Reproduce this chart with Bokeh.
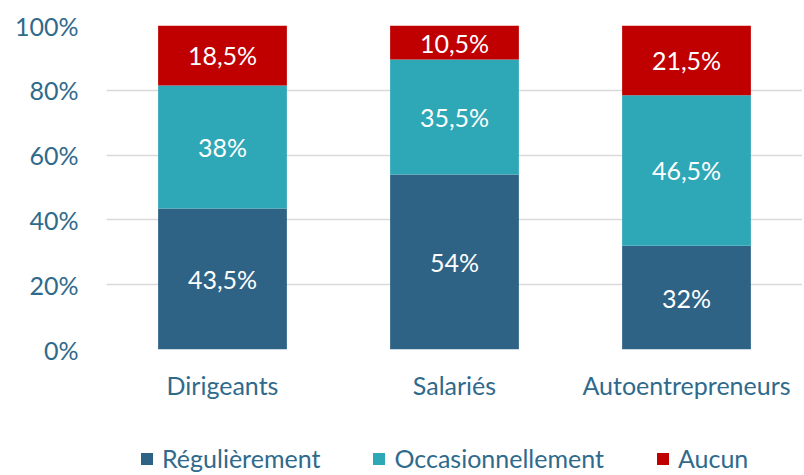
from bokeh.plotting import figure
from bokeh.layouts import column
from bokeh.models import ColumnDataSource, Range1d, FixedTicker, PrintfTickFormatter, LabelSet, Legend, LegendItem
from bokeh.core.properties import value
from bokeh.embed import file_html
from bokeh.resources import INLINE

categories = ["Dirigeants", "Salariés", "Autoentrepreneurs"]
series = ["Régulièrement", "Occasionnellement", "Aucun"]
regulierement = [43.5, 54, 32]
occasionnellement = [38, 35.5, 46.5]
aucun = [18.5, 10.5, 21.5]
colors = ["#2E6386", "#2EA7B7", "#C00000"]
y_ticks = [0, 20, 40, 60, 80, 100]

FONT = "Lato"
TXT = "#2F6A8C"
FS = "25px"

src = ColumnDataSource(dict(cat=categories, **{series[0]: regulierement, series[1]: occasionnellement, series[2]: aucun}))

p = figure(x_range=categories, y_range=Range1d(0, 100), width=802, height=402,
           output_backend="svg", toolbar_location=None,
           min_border_left=106, min_border_right=0, min_border_top=25, min_border_bottom=0)
p.x_range.range_padding = 0

r = p.vbar_stack(series, x="cat", width=0.555, color=colors, source=src, line_color=None)

# labels
vals = [regulierement, occasionnellement, aucun]
lx, ly, lt = [], [], []
for i, c in enumerate(categories):
    base = 0
    for s in vals:
        v = s[i]
        lx.append(c)
        ly.append(base + v / 2)
        lt.append(("%g" % v).replace(".", ",") + "%")
        base += v
lsrc = ColumnDataSource(dict(x=lx, y=ly, t=lt))
p.add_layout(LabelSet(x="x", y="y", text="t", source=lsrc, text_color="white",
                      text_font=value(FONT), text_font_size=FS, text_align="center",
                      text_baseline="middle"))

p.outline_line_color = None
p.xgrid.grid_line_color = None
p.ygrid.grid_line_color = "#D9D9D9"
p.ygrid.grid_line_width = 1.5
p.yaxis.ticker = FixedTicker(ticks=y_ticks)
p.yaxis.formatter = PrintfTickFormatter(format="%d%%")
for ax in (p.xaxis, p.yaxis):
    ax.axis_line_color = None
    ax.major_tick_line_color = None
    ax.minor_tick_line_color = None
    ax.major_label_text_font = FONT
    ax.major_label_text_font_size = FS
    ax.major_label_text_color = TXT
p.yaxis.major_label_standoff = 22
p.xaxis.major_label_standoff = 14

# legend figure (bars drawn outside its visible y range, only the legend shows)
p2 = figure(width=802, height=73, x_range=p.x_range, y_range=Range1d(1000, 1001),
            x_axis_type=None, y_axis_type=None, output_backend="svg", toolbar_location=None,
            min_border_left=0, min_border_right=0, min_border_top=0, min_border_bottom=0)
p2.outline_line_color = None
p2.xgrid.grid_line_color = None
p2.ygrid.grid_line_color = None
r2 = p2.vbar_stack(series, x="cat", width=0.555, color=colors, source=src, line_color=None)
legend = Legend(items=[LegendItem(label=s, renderers=[r2[i]]) for i, s in enumerate(series)],
                orientation="horizontal", location=(33, 2),
                label_text_font=FONT, label_text_font_size=FS, label_text_color=TXT,
                glyph_width=15, glyph_height=15, spacing=51, label_standoff=8,
                border_line_color=None, background_fill_alpha=0, margin=0, padding=0)
p2.add_layout(legend)

layout = column(p, p2, spacing=0)
open("out.html", "w").write(file_html(layout, INLINE))
